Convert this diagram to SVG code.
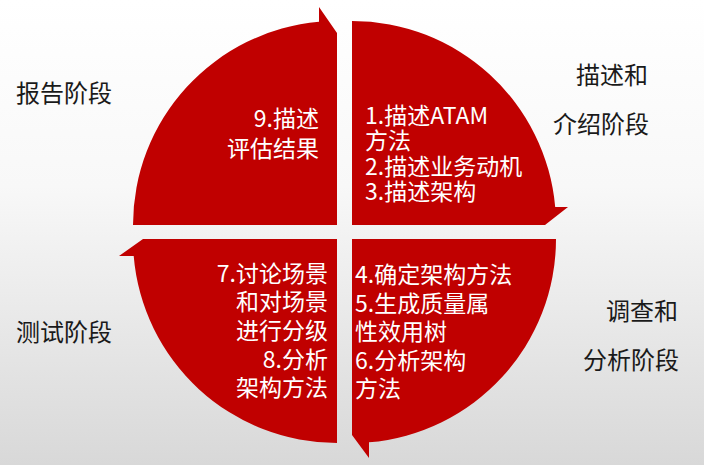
<svg xmlns="http://www.w3.org/2000/svg" width="704" height="465" viewBox="0 0 704 465">
<defs>
<linearGradient id="bg" x1="0" y1="0" x2="0" y2="1">
<stop offset="0" stop-color="#ffffff"/>
<stop offset="0.4" stop-color="#f8f8f8"/>
<stop offset="1" stop-color="#d8d8d8"/>
</linearGradient>
</defs>
<style>
.q{fill:#c00000;}
.in{font-family:"Noto Sans CJK SC","Noto Sans",sans-serif;font-size:23px;fill:#ffffff;}
.out{font-family:"Noto Sans CJK SC","Noto Sans",sans-serif;font-size:24px;fill:#1a1a1a;}
.e{text-anchor:end;}
</style>
<rect x="0" y="0" width="704" height="465" fill="url(#bg)"/>
<g id="report">
<path class="q" d="M133,225 A204,204 0 0 1 319,21.8 L319,7 L337,33 L337,225 Z"/>
<text class="in e" x="319" y="127">9.描述</text>
<text class="in e" x="319" y="157">评估结果</text>
</g>
<g id="describe">
<path class="q" d="M352,21 A204,204 0 0 1 555.2,207 L568,207 L545,225 L352,225 Z"/>
<text class="in" x="365" y="123.5">1.描述ATAM</text>
<text class="in" x="365" y="149">方法</text>
<text class="in" x="365" y="174.5">2.描述业务动机</text>
<text class="in" x="365" y="200">3.描述架构</text>
</g>
<g id="analyze">
<path class="q" d="M352,239 L556,239 A204,204 0 0 1 369,442.3 L369,458 L352,435 Z"/>
<text class="in" x="355" y="283">4.确定架构方法</text>
<text class="in" x="355" y="311.5">5.生成质量属</text>
<text class="in" x="355" y="340">性效用树</text>
<text class="in" x="355" y="368.5">6.分析架构</text>
<text class="in" x="355" y="396.5">方法</text>
</g>
<g id="test">
<path class="q" d="M337,239 L143,239 L119,256 L133.7,256 A204,204 0 0 0 337,443 Z"/>
<text class="in e" x="328" y="281.5">7.讨论场景</text>
<text class="in e" x="328" y="310.2">和对场景</text>
<text class="in e" x="328" y="338.9">进行分级</text>
<text class="in e" x="328" y="367.6">8.分析</text>
<text class="in e" x="328" y="396.3">架构方法</text>
</g>
<g id="labels">
<text class="out" x="16" y="102">报告阶段</text>
<text class="out e" x="648" y="84">描述和</text>
<text class="out e" x="649" y="133">介绍阶段</text>
<text class="out" x="16" y="341">测试阶段</text>
<text class="out e" x="678" y="320">调查和</text>
<text class="out e" x="679" y="369">分析阶段</text>
</g>
</svg>
